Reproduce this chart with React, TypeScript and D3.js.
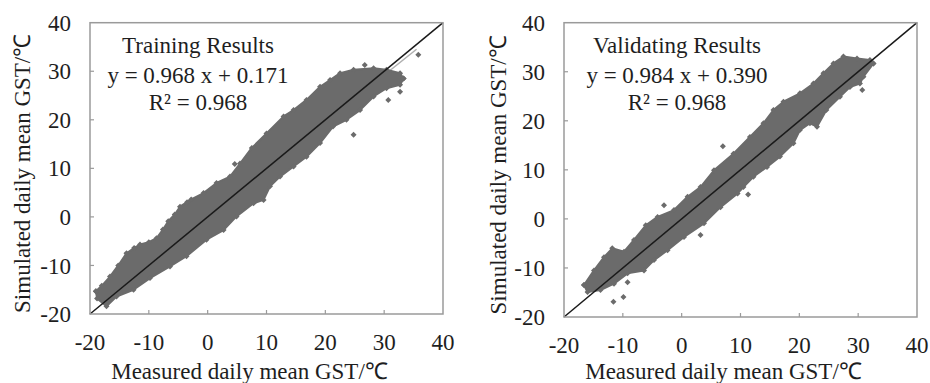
import * as d3 from "d3";

type Pt = [number, number];

// axis ticks, both panels and both axes
const ticks = [-20, -10, 0, 10, 20, 30, 40];

// training cloud: upper and lower edge of the point band
const trainUpper: Pt[] = [
  [-19, -15.3], [-18, -14.2], [-16.6, -12.3], [-15.2, -10], [-13.8, -7.5], [-12.5, -6.4],
  [-11.5, -5.7], [-10, -5.2], [-8.7, -4.4], [-7.6, -2.6], [-6.7, -0.9], [-5.6, 0.5],
  [-4.7, 2.1], [-2.8, 3.6], [-0.7, 4.9], [1.5, 7], [3.8, 8.3], [5.5, 11], [7.5, 14.2],
  [10, 17.2], [12.9, 20.7], [14.6, 22], [16.8, 24.1], [19.1, 26.8], [20.8, 28.2],
  [22.5, 29.6], [24.8, 30.3], [28.2, 30.6], [30.4, 30.3], [32.7, 29.6], [33.3, 28.5],
];
const trainLower: Pt[] = [
  [-19, -15.3], [-18.8, -16.8], [-17.2, -18.4], [-15.5, -16.4], [-12.6, -15], [-9.8, -12.6],
  [-6.4, -10.2], [-3.6, -8.1], [-0.2, -4.7], [2.7, -2.7], [4.9, 0.1], [7.8, 2.8],
  [9.5, 3.5], [10.6, 6.3], [12.3, 8.3], [14.6, 10.4], [16.8, 12.4], [19.1, 15.2],
  [21.3, 18.6], [23.6, 20], [25.9, 22], [28.2, 24.8], [30.4, 26.5], [32.7, 27.2], [33.3, 28.5],
];
const trainOutliers: Pt[] = [
  [-3.5, 3.0], [4.6, 10.9], [26.7, 31.3], [35.8, 33.4], [32.7, 25.8], [30.7, 24.1], [24.8, 16.9],
];

// validating cloud
const validUpper: Pt[] = [
  [-16.6, -13.5], [-14.9, -10.5], [-13.2, -7.8], [-11.8, -6.0], [-9.8, -6.7], [-8.1, -4.3],
  [-6.1, -1.3], [-4.1, 0.4], [-1.3, 1.8], [1, 4.5], [3.2, 6.5], [5.5, 9.9], [8.8, 13.3],
  [11.6, 16.7], [13.9, 19.5], [15.6, 22.2], [17.3, 23.9], [20.1, 25.6], [22.4, 27.6],
  [24.1, 29.7], [25.8, 31.7], [27.5, 33.1], [29.8, 32.7], [32, 32.4], [32.6, 31.7],
];
const validLower: Pt[] = [
  [-16.6, -13.5], [-16.0, -14.9], [-13.8, -14.5], [-11.5, -13.2], [-9.2, -11.1], [-6.4, -10.5],
  [-4.7, -8.4], [-2.4, -6.4], [0.4, -3.7], [3.8, -0.9], [6.6, 2.4], [9.5, 5.2], [10.5, 6.5],
  [12.2, 8.6], [14.5, 10.6], [16.7, 12.7], [19, 15.4], [20.1, 18.1], [21.8, 19.5], [23, 18.8],
  [24.6, 22.2], [26.9, 24.9], [28.6, 26.9], [30.3, 27.6], [30.9, 29], [32.6, 31.7],
];
const validOutliers: Pt[] = [
  [-11.6, -16.9], [-9.9, -15.9], [-9.2, -12.9], [-3, 2.8], [3.2, -3.3], [7, 14.8], [11.3, 5], [30.7, 26.3],
];

// fit lines: [slope, intercept, first x, last x]
const trainFit = [0.968, 0.171, -17.5, 35.5];
const validFit = [0.984, 0.39, -15, 32.5];

const titles = ["Training Results", "Validating Results"];
const equations = ["y = 0.968 x + 0.171", "y = 0.984 x + 0.390"];
const r2Labels = ["R² = 0.968", "R² = 0.968"];

const serif = { fontFamily: "Liberation Serif", fontSize: "23px" };
const cloudColor = "#6b6b6b";
const frameColor = "#9a9a9a";

function Panel(props: {
  left: number; right: number; top: number; bottom: number;
  upper: Pt[]; lower: Pt[]; outliers: Pt[]; fit: number[];
  title: string; eq: string; r2: string; textX: number; yTitleX: number;
}) {
  const { left, right, top, bottom } = props;
  const x = d3.scaleLinear().domain([-20, 40]).range([left, right]);
  const y = d3.scaleLinear().domain([-20, 40]).range([bottom, top]);

  const outline = [...props.upper, ...props.lower.slice().reverse()];
  const poly = d3.line<Pt>().x(d => x(d[0])).y(d => y(d[1]))(outline) + "Z";
  const marker = d3.symbol().type(d3.symbolSquare).size(18)()!;
  const dots = [...props.upper, ...props.lower, ...props.outliers];

  const [a, b, xs, xe] = props.fit;
  const fitPath = d3.line<number>().x(v => x(v)).y(v => y(a * v + b))([xs, xe])!;
  const diag = d3.line<number>().x(v => x(v)).y(v => y(v))([-20, 40])!;

  return (
    <g fill="#1e1e1e">
      <path d={fitPath} stroke="#b0b0b0" strokeWidth={1.5} fill="none" />
      <path d={poly} fill={cloudColor} stroke={cloudColor} strokeWidth={2} strokeLinejoin="round" />
      {dots.map((d, i) => (
        <path key={i} d={marker} fill={cloudColor}
          transform={`translate(${x(d[0])},${y(d[1])}) rotate(45)`} />
      ))}
      <path d={diag} stroke="#1a1a1a" strokeWidth={1.5} fill="none" />

      <rect x={left} y={top} width={right - left} height={bottom - top}
        fill="none" stroke={frameColor} strokeWidth={1.5} />
      {ticks.slice(1, -1).map(t => (
        <g key={t}>
          <line x1={x(t)} x2={x(t)} y1={bottom} y2={bottom - 4} stroke={frameColor} strokeWidth={1.2} />
          <line x1={left} x2={left + 4} y1={y(t)} y2={y(t)} stroke={frameColor} strokeWidth={1.2} />
        </g>
      ))}
      {ticks.map(t => (
        <text key={"x" + t} x={x(t)} y={bottom + 36} textAnchor="middle" style={serif}>{t}</text>
      ))}
      {ticks.map(t => (
        <text key={"y" + t} x={left - 19} y={y(t)} dy="0.35em" textAnchor="end" style={serif}>{t}</text>
      ))}

      <text x={(left + right) / 2 - 17} y={379} textAnchor="middle" style={serif}>
        Measured daily mean GST/℃
      </text>
      <text transform={`translate(${props.yTitleX},${(top + bottom) / 2 + 5}) rotate(-90)`}
        textAnchor="middle" style={serif}>
        Simulated daily mean GST/℃
      </text>

      <text x={props.textX} y={53} textAnchor="middle" style={serif}>{props.title}</text>
      <text x={props.textX} y={83} textAnchor="middle" style={serif}>{props.eq}</text>
      <text x={props.textX} y={110} textAnchor="middle" style={serif}>{props.r2}</text>
    </g>
  );
}

export default function App() {
  return (
    <svg width={930} height={383} viewBox="0 0 930 383"
      style={{ position: "absolute", left: 0, top: 0, background: "#fff" }}>
      <Panel left={90} right={443} top={22.7} bottom={314}
        upper={trainUpper} lower={trainLower} outliers={trainOutliers} fit={trainFit}
        title={titles[0]} eq={equations[0]} r2={r2Labels[0]} textX={198} yTitleX={30} />
      <Panel left={564} right={917} top={22.7} bottom={317}
        upper={validUpper} lower={validLower} outliers={validOutliers} fit={validFit}
        title={titles[1]} eq={equations[1]} r2={r2Labels[1]} textX={677} yTitleX={506} />
    </svg>
  );
}
